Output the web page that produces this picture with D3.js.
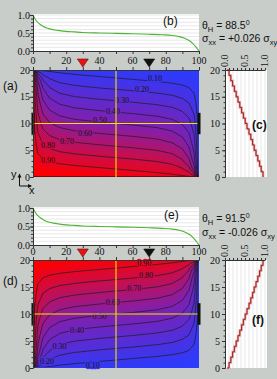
<!DOCTYPE html>
<html>
<head>
<meta charset="utf-8">
<script src="https://cdn.jsdelivr.net/npm/d3@7"></script>
<style>
  body { margin: 0; background: #c9cdc9; }
  svg { display: block; }
  .num { font-family: "Liberation Serif", "DejaVu Serif", serif; font-size: 10px; fill: #111; }
  .clab { font-family: "Liberation Serif", serif; font-size: 8px; fill: #111; paint-order: stroke; }
  .sans { font-family: "Liberation Sans", Arial, sans-serif; fill: #111; }
</style>
</head>
<body>
<div id="chart"></div>
<script>
// ---- values ----
// potential map of panel (a): columns gridX (0..100), rows gridY (0..20)
// panel (d) shows the same map mirrored top to bottom
var gridX = [0, 1, 3, 6, 10, 16, 25, 40, 50, 60, 75, 84, 90, 94, 97, 99, 100];
var gridY = [0, 0.5, 1.5, 3, 6, 10, 14, 17, 18.5, 19.5, 20];
var potential = [
  [1.000, 1.000, 1.000, 1.000, 1.000, 1.000, 1.000, 0.982, 0.970, 0.958, 0.940, 0.929, 0.922, 0.917, 0.914, 0.911, 0.500],
  [1.000, 1.000, 1.000, 0.999, 0.995, 0.987, 0.977, 0.959, 0.947, 0.934, 0.915, 0.901, 0.882, 0.846, 0.735, 0.372, 0.000],
  [1.000, 0.988, 0.974, 0.963, 0.953, 0.943, 0.930, 0.912, 0.900, 0.887, 0.867, 0.846, 0.808, 0.731, 0.545, 0.236, 0.000],
  [1.000, 0.970, 0.936, 0.910, 0.893, 0.877, 0.861, 0.841, 0.829, 0.817, 0.794, 0.766, 0.713, 0.619, 0.448, 0.202, 0.000],
  [1.000, 0.935, 0.859, 0.806, 0.772, 0.744, 0.723, 0.701, 0.688, 0.675, 0.651, 0.618, 0.563, 0.483, 0.351, 0.162, 0.000],
  [1.000, 0.886, 0.755, 0.664, 0.608, 0.566, 0.537, 0.513, 0.500, 0.487, 0.463, 0.434, 0.392, 0.336, 0.245, 0.114, 0.000],
  [1.000, 0.838, 0.649, 0.517, 0.437, 0.382, 0.349, 0.325, 0.312, 0.299, 0.277, 0.256, 0.228, 0.194, 0.141, 0.065, 0.000],
  [1.000, 0.798, 0.552, 0.381, 0.287, 0.234, 0.206, 0.183, 0.171, 0.159, 0.139, 0.123, 0.107, 0.090, 0.064, 0.030, 0.000],
  [1.000, 0.764, 0.455, 0.269, 0.192, 0.154, 0.133, 0.113, 0.101, 0.088, 0.070, 0.057, 0.047, 0.037, 0.026, 0.012, 0.000],
  [1.000, 0.628, 0.265, 0.154, 0.118, 0.099, 0.085, 0.066, 0.054, 0.041, 0.023, 0.013, 0.005, 0.001, 0.000, 0.000, 0.000],
  [0.500, 0.089, 0.086, 0.083, 0.078, 0.071, 0.060, 0.042, 0.030, 0.018, 0.000, 0.000, 0.000, 0.000, 0.000, 0.000, 0.000]
];

// profile along the horizontal yellow line (panels b and e)
var profileX = [0, 1, 2, 4, 6, 8, 10, 13, 16, 20, 25, 30, 40, 50, 60, 70, 78, 84, 88, 91, 94, 96, 98, 99, 100];
var profileV = [1.0, 0.91, 0.84, 0.75, 0.69, 0.645, 0.615, 0.585, 0.565, 0.545, 0.53, 0.515, 0.50, 0.49, 0.478, 0.465, 0.45, 0.43, 0.40, 0.36, 0.29, 0.22, 0.12, 0.06, 0.0];

// profile along the vertical yellow line (panels c and f)
var stairY = [0, 1, 2, 3, 4, 5, 6, 7, 8, 9, 10, 11, 12, 13, 14, 15, 16, 17, 18, 19, 20];
var stairV = [0.95, 0.905, 0.865, 0.82, 0.775, 0.73, 0.69, 0.645, 0.60, 0.55, 0.505, 0.46, 0.415, 0.37, 0.325, 0.28, 0.235, 0.19, 0.145, 0.10, 0.055];

var contourLevels = [0.1, 0.2, 0.3, 0.4, 0.5, 0.6, 0.7, 0.8, 0.9];
// contour labels [level, x, y] as placed in each map
var labelsA = [[0.1, 73.5, 18.5], [0.2, 65.7, 16.4], [0.3, 53.6, 14.4], [0.4, 48.2, 12.3], [0.5, 40.4, 10.5],
               [0.6, 31.3, 8.2], [0.7, 20.5, 6.7], [0.8, 9, 6.0], [0.9, 9, 3.2]];
var labelsD = [[0.1, 36, 0.5], [0.2, 8.4, 1.3], [0.3, 16, 4.1], [0.4, 26.5, 7.0], [0.5, 40, 9.6],
               [0.6, 48, 12.2], [0.7, 61, 14.8], [0.8, 68, 17.2], [0.9, 67, 19.4]];

var xTicks = [0, 20, 40, 60, 80, 100];
var markerX = [30, 70];          // red and black triangles
var contactY = [8, 12];          // black contact bars on both edges
var hallAngle = ["88.5", "91.5"];
var sigmaRatio = ["+0.026", "-0.026"];

var svgWidth = 277, svgHeight = 379;
var svg = d3.select("#chart").append("svg")
  .attr("width", svgWidth)
  .attr("height", svgHeight);
svg.append("rect").attr("width", svgWidth).attr("height", svgHeight).attr("fill", "#c9cdc9");

var x = d3.scaleLinear().domain([0, 100]).range([33, 199]);
var sx = d3.scaleLinear().domain([0, 1]).range([225, 265]);
var color = d3.scaleLinear().domain([0, 0.5, 1]).range(["#2a3cff", "#8020b0", "#ff0000"]);

// contours of the map, in grid index space
var nx = gridX.length, ny = gridY.length;
var values = [].concat.apply([], potential);
var colX = d3.scaleLinear().domain(gridX.map(function (d, i) { return i + 0.5; })).range(gridX).clamp(true);
var rowY = d3.scaleLinear().domain(gridY.map(function (d, i) { return i + 0.5; })).range(gridY).clamp(true);
var fillContours = d3.contours().size([nx, ny]).thresholds(d3.range(0, 1, 0.02))(values);
var lineContours = d3.contours().size([nx, ny]).thresholds(contourLevels)(values);

var panels = [
  { lineY: [51, 15], boxTop: 14, xLab: 63.5, heat: [177, 70], flip: false, labels: labelsA,
    tags: [["(a)", 3, 90], ["(b)", 163, 25], ["(c)", 252, 129]], textY: [29, 42], triY: 59 },
  { lineY: [245, 208], boxTop: 207, xLab: 254.5, heat: [368, 260], flip: true, labels: labelsD,
    tags: [["(d)", 3, 285], ["(e)", 164, 219], ["(f)", 252, 324]], textY: [222, 236], triY: 249 }
];

function tidy(g) {
  g.attr("font-family", null).attr("font-size", null);
  g.selectAll("text").attr("class", "num");
  g.selectAll("line").attr("stroke", "#333");
  g.select(".domain").attr("stroke", "#333");
}

panels.forEach(function (p, k) {
  var g = svg.append("g");
  var yLine = d3.scaleLinear().domain([0, 1]).range(p.lineY);
  var yHeat = d3.scaleLinear().domain([0, 20]).range(p.heat);
  var yMap = p.flip ? d3.scaleLinear().domain([0, 20]).range([p.heat[1], p.heat[0]]) : yHeat;

  // ---- line plot (b)/(e) ----
  g.append("rect")
    .attr("x", x(0)).attr("y", p.boxTop)
    .attr("width", x(100) - x(0)).attr("height", yLine(0) - p.boxTop)
    .attr("fill", "#fff");
  g.selectAll(".hgrid").data(d3.range(1, 11)).enter().append("line")
    .attr("x1", x(0)).attr("x2", x(100))
    .attr("y1", function (d) { return yLine(d / 10); })
    .attr("y2", function (d) { return yLine(d / 10); })
    .attr("stroke", "#d6d6d6").attr("stroke-width", 0.6);
  g.append("path")
    .datum(profileX.map(function (d, i) { return [d, profileV[i]]; }))
    .attr("d", d3.line().x(function (d) { return x(d[0]); }).y(function (d) { return yLine(d[1]); }).curve(d3.curveMonotoneX))
    .attr("fill", "none").attr("stroke", "#4cb434").attr("stroke-width", 1.1);

  g.append("g").attr("transform", "translate(" + x(0) + ",0)")
    .call(d3.axisLeft(yLine).tickValues(d3.range(0, 11).map(function (d) { return d / 10; })).tickSize(2).tickFormat("").tickSizeOuter(0))
    .call(tidy);
  g.append("g").attr("transform", "translate(" + x(0) + ",0)")
    .call(d3.axisLeft(yLine).tickValues([0, 0.5, 1]).tickFormat(d3.format(".1f")).tickSize(3).tickPadding(0).tickSizeOuter(0))
    .call(tidy);
  g.append("g").attr("transform", "translate(0," + yLine(0) + ")")
    .call(d3.axisBottom(x).tickValues(d3.range(0, 101, 10)).tickSize(3).tickFormat("").tickSizeOuter(0))
    .call(tidy);
  g.selectAll(".xlab").data(xTicks).enter().append("text")
    .attr("class", "num").attr("text-anchor", "middle")
    .attr("x", function (d) { return x(d); }).attr("y", p.xLab)
    .text(function (d) { return d; });

  // ---- potential map (a)/(d) ----
  var path = d3.geoPath(d3.geoTransform({
    point: function (px, py) { this.stream.point(x(colX(px)), yMap(rowY(py))); }
  }));
  g.append("g").selectAll("path").data(fillContours).enter().append("path")
    .attr("d", path)
    .attr("fill", function (d) { return color(d.value + 0.01); });

  var clipId = "clip" + k;
  svg.append("clipPath").attr("id", clipId).append("rect")
    .attr("x", x(0) + 0.7).attr("y", p.heat[1] + 0.7)
    .attr("width", x(100) - x(0) - 1.4).attr("height", p.heat[0] - p.heat[1] - 1.4);
  g.append("g").attr("clip-path", "url(#" + clipId + ")")
    .selectAll("path").data(lineContours).enter().append("path")
    .attr("d", path)
    .attr("fill", "none").attr("stroke", "#1c1c1c").attr("stroke-width", 0.7);

  // labels sit in a gap of their line
  g.selectAll(".clab").data(p.labels).enter().append("text")
    .attr("class", "clab").attr("text-anchor", "middle").attr("dy", "0.33em")
    .attr("x", function (d) { return x(d[1]); })
    .attr("y", function (d) { return yHeat(d[2]); })
    .attr("stroke", function (d) { return color(d[0]); }).attr("stroke-width", 2.5)
    .text(function (d) { return d3.format(".2f")(d[0]); });

  // yellow cuts
  g.append("line").attr("x1", x(50)).attr("x2", x(50)).attr("y1", p.heat[0]).attr("y2", p.heat[1])
    .attr("stroke", "#f2e600").attr("stroke-width", 1.1);
  g.append("line").attr("x1", x(0)).attr("x2", x(100)).attr("y1", yHeat(10)).attr("y2", yHeat(10))
    .attr("stroke", "#f2e600").attr("stroke-width", 1.1);

  // contacts
  [0, 100].forEach(function (edge) {
    g.append("rect")
      .attr("x", x(edge) - 1.5).attr("width", 3)
      .attr("y", yHeat(contactY[1])).attr("height", yHeat(contactY[0]) - yHeat(contactY[1]))
      .attr("fill", "#111");
  });

  g.append("g").attr("transform", "translate(" + x(0) + ",0)")
    .call(d3.axisLeft(yHeat).tickValues(d3.range(0, 21)).tickSize(1.5).tickFormat("").tickSizeOuter(0))
    .call(tidy);
  g.append("g").attr("transform", "translate(" + x(0) + ",0)")
    .call(d3.axisLeft(yHeat).tickValues([0, 5, 10, 15, 20]).tickSize(3).tickPadding(0).tickSizeOuter(0))
    .call(tidy);
  g.append("g").attr("transform", "translate(0," + p.heat[1] + ")")
    .call(d3.axisTop(x).tickValues(d3.range(0, 101, 10)).tickSize(3).tickFormat("").tickSizeOuter(0))
    .call(tidy);

  // markers
  markerX.forEach(function (m, i) {
    var cx = x(m);
    g.append("path")
      .attr("d", "M" + (cx - 5.5) + "," + p.triY + "L" + (cx + 5.5) + "," + p.triY + "L" + cx + "," + (p.triY + 8) + "Z")
      .attr("fill", i === 0 ? "#ee1111" : "#111").attr("stroke", i === 0 ? "#5a1010" : "#111").attr("stroke-width", 0.6);
  });

  // ---- side profile (c)/(f) ----
  g.append("rect").attr("x", sx(0)).attr("y", p.heat[1])
    .attr("width", 42).attr("height", p.heat[0] - p.heat[1]).attr("fill", "#fff");
  g.selectAll(".vgrid").data(d3.range(1, 11)).enter().append("line")
    .attr("x1", function (d) { return sx(d / 10); }).attr("x2", function (d) { return sx(d / 10); })
    .attr("y1", p.heat[1]).attr("y2", p.heat[0])
    .attr("stroke", "#d6d6d6").attr("stroke-width", 0.6);
  var stairs = d3.line()
    .x(function (d) { return sx(d[1]); })
    .y(function (d) { return yMap(d[0]); })
    .curve(d3.curveStepBefore);
  var stairData = stairY.map(function (d, i) { return [d, stairV[i]]; });
  g.append("path").datum(stairData).attr("d", stairs)
    .attr("fill", "none").attr("stroke", "#e7a5a5").attr("stroke-width", 2.4);
  g.append("path").datum(stairData).attr("d", stairs)
    .attr("fill", "none").attr("stroke", "#8c1414").attr("stroke-width", 0.9);

  g.append("g").attr("transform", "translate(" + sx(0) + ",0)")
    .call(d3.axisLeft(yHeat).tickValues(d3.range(0, 21)).tickSize(1.5).tickFormat("").tickSizeOuter(0))
    .call(tidy);
  g.append("g").attr("transform", "translate(" + sx(0) + ",0)")
    .call(d3.axisLeft(yHeat).tickValues([0, 5, 10, 15, 20]).tickSize(3).tickPadding(2).tickSizeOuter(0))
    .call(tidy);
  g.append("g").attr("transform", "translate(0," + p.heat[1] + ")")
    .call(d3.axisTop(sx).tickValues(d3.range(0, 11).map(function (d) { return d / 10; })).tickSize(2).tickFormat("").tickSizeOuter(0))
    .call(tidy);
  g.selectAll(".slab").data([0, 0.5, 1]).enter().append("text")
    .attr("class", "num").attr("dy", "0.33em")
    .attr("transform", function (d) { return "translate(" + sx(d) + "," + (p.heat[1] - 3) + ") rotate(-90)"; })
    .text(function (d) { return d.toFixed(1); });

  // ---- panel tags and parameters ----
  p.tags.forEach(function (t, i) {
    g.append("text").attr("class", "sans")
      .attr("x", t[1]).attr("y", t[2])
      .attr("font-size", "12px").attr("font-weight", i === 2 ? "bold" : null)
      .text(t[0]);
  });
  var t1 = g.append("text").attr("class", "sans").attr("x", 202).attr("y", p.textY[0]).attr("font-size", "10.5px");
  t1.append("tspan").text("\u03b8");
  t1.append("tspan").attr("dy", 3).attr("font-size", "7.5px").text("H");
  t1.append("tspan").attr("dy", -3).text(" = " + hallAngle[k]);
  t1.append("tspan").attr("dy", -4).attr("font-size", "7px").text("0");
  var t2 = g.append("text").attr("class", "sans").attr("x", 202).attr("y", p.textY[1]).attr("font-size", "10.5px");
  t2.append("tspan").text("\u03c3");
  t2.append("tspan").attr("dy", 3).attr("font-size", "7.5px").text("xx");
  t2.append("tspan").attr("dy", -3).text(" = " + sigmaRatio[k] + " \u03c3");
  t2.append("tspan").attr("dy", 3).attr("font-size", "7.5px").text("xy");
});

// coordinate symbol
var sym = svg.append("g");
sym.append("path").attr("d", "M19.5,186V174.5M19.5,186H31").attr("stroke", "#111").attr("fill", "none");
sym.append("path").attr("d", "M17.5,177.5L19.5,173.5L21.5,177.5Z M28,184L32,186L28,188Z").attr("fill", "#111");
sym.append("text").attr("class", "sans").attr("font-size", "11px").attr("x", 11).attr("y", 178).text("y");
sym.append("text").attr("class", "sans").attr("font-size", "11px").attr("x", 29).attr("y", 194).text("x");
</script>
</body>
</html>
